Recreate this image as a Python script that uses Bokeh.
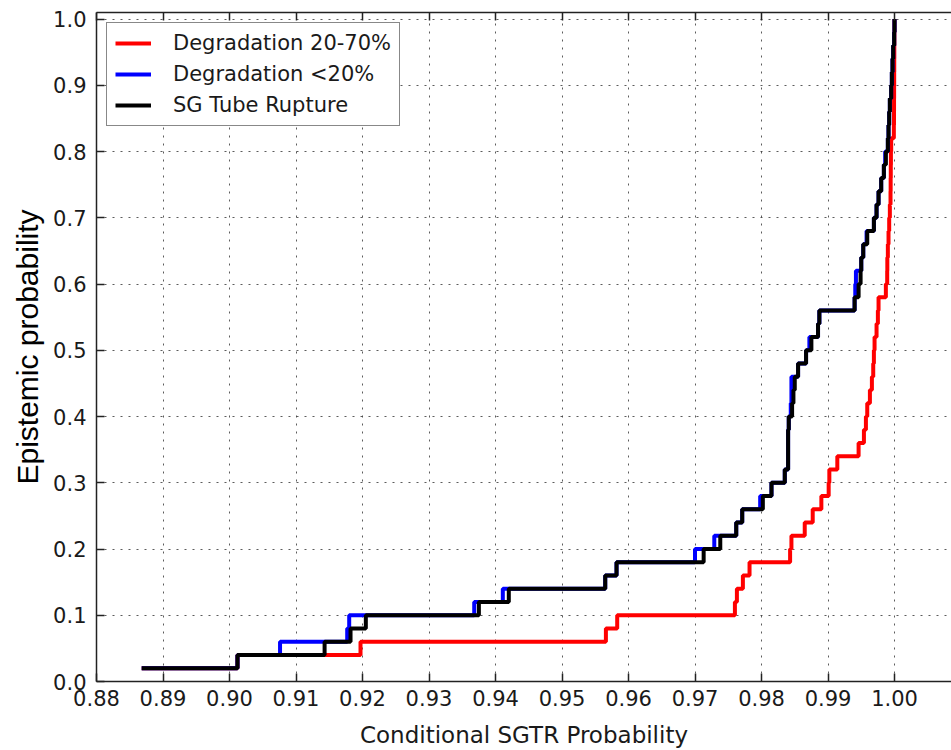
from bokeh.plotting import figure
from bokeh.models import Range1d, FixedTicker, PrintfTickFormatter, LinearAxis, Legend, LegendItem
from bokeh.embed import file_html
from bokeh.resources import INLINE

# Epistemic probability levels (ECDF steps)
epistemic_prob = [0.02, 0.04, 0.06, 0.08, 0.10, 0.12, 0.14, 0.16, 0.18, 0.20,
                  0.22, 0.24, 0.26, 0.28, 0.30, 0.32, 0.34, 0.36, 0.38, 0.40,
                  0.42, 0.44, 0.46, 0.48, 0.50, 0.52, 0.54, 0.56, 0.58, 0.60,
                  0.62, 0.64, 0.66, 0.68, 0.70, 0.72, 0.74, 0.76, 0.78, 0.80,
                  0.82, 0.84, 0.86, 0.88, 0.90, 0.92, 0.94, 0.96, 0.98, 1.00]

# Conditional SGTR probability, sorted samples per series
degradation_20_70 = [0.8868, 0.9012, 0.9197, 0.9566, 0.9583, 0.9760, 0.9763, 0.9772, 0.9782, 0.9843,
                     0.9845, 0.9865, 0.9877, 0.9890, 0.9901, 0.9902, 0.9914, 0.9946, 0.9954, 0.9957,
                     0.9959, 0.9963, 0.9966, 0.9968, 0.9969, 0.9970, 0.9973, 0.9975, 0.9976, 0.9987,
                     0.9989, 0.99892, 0.9990, 0.9991, 0.9992, 0.9993, 0.9994, 0.99942, 0.99944, 0.99946,
                     0.9995, 0.9999, 0.99992, 0.99993, 0.99994, 0.99995, 0.99996, 0.99997, 0.99998, 1.0]

degradation_lt20 = [0.8868, 0.9012, 0.9076, 0.9177, 0.9180, 0.9368, 0.9411, 0.9565, 0.9582, 0.9700,
                    0.9729, 0.9762, 0.9771, 0.9798, 0.9815, 0.9835, 0.9840, 0.9840, 0.9840, 0.9841,
                    0.9844, 0.9845, 0.9845, 0.9855, 0.9867, 0.9872, 0.9885, 0.9887, 0.9940, 0.9941,
                    0.9942, 0.9950, 0.9953, 0.9958, 0.9969, 0.9973, 0.9976, 0.9980, 0.9984, 0.9986,
                    0.9990, 0.9991, 0.9992, 0.9993, 0.9995, 0.9996, 0.9997, 0.9998, 0.99995, 1.0]

sg_tube_rupture = [0.8868, 0.9012, 0.9143, 0.9182, 0.9205, 0.9375, 0.9420, 0.9565, 0.9582, 0.9713,
                   0.9738, 0.9762, 0.9771, 0.9802, 0.9815, 0.9835, 0.9840, 0.9840, 0.9840, 0.9841,
                   0.9846, 0.9848, 0.9850, 0.9855, 0.9867, 0.9875, 0.9885, 0.9887, 0.9940, 0.9946,
                   0.9949, 0.9950, 0.9953, 0.9959, 0.9969, 0.9973, 0.9976, 0.9980, 0.9984, 0.9987,
                   0.9990, 0.9991, 0.9992, 0.9993, 0.9995, 0.9996, 0.9997, 0.9998, 0.99995, 1.0]

series_labels = ["Degradation 20-70%", "Degradation <20%", "SG Tube Rupture"]
series_colors = ["#ff0000", "#0000ff", "#000000"]

x_ticks = [0.88, 0.89, 0.90, 0.91, 0.92, 0.93, 0.94, 0.95, 0.96, 0.97, 0.98, 0.99, 1.00]
y_ticks = [0.0, 0.1, 0.2, 0.3, 0.4, 0.5, 0.6, 0.7, 0.8, 0.9, 1.0]

FONT = "DejaVu Sans"

p = figure(width=951, height=750, output_backend="svg", toolbar_location=None,
           x_range=Range1d(0.88, 1.00857), y_range=Range1d(0.0, 1.01),
           min_border_left=96, min_border_right=0, min_border_top=12, min_border_bottom=68)
p.outline_line_color = None
p.background_fill_color = "white"
p.border_fill_color = "white"

renderers = []
for xs, lab, col in zip([degradation_20_70, degradation_lt20, sg_tube_rupture], series_labels, series_colors):
    r = p.step(x=xs, y=epistemic_prob, mode="after", line_width=4, line_color=col)
    renderers.append((lab, r))

# axes
xt = FixedTicker(ticks=x_ticks)
yt = FixedTicker(ticks=y_ticks)
for ax in p.xaxis:
    ax.ticker = xt
    ax.formatter = PrintfTickFormatter(format="%.2f")
    ax.axis_label = "Conditional SGTR Probability"
for ax in p.yaxis:
    ax.ticker = yt
    ax.formatter = PrintfTickFormatter(format="%.1f")
    ax.axis_label = "Epistemic probability"

# top frame edge with inward ticks, no labels
top = LinearAxis(ticker=FixedTicker(ticks=x_ticks), major_label_text_font_size="2px",
                 major_label_text_color=None, major_label_standoff=0, axis_label=None)
p.add_layout(top, "above")

for ax in p.axis:
    ax.major_tick_in = 8
    ax.major_tick_out = 0
    ax.minor_tick_line_color = None
    ax.major_tick_line_color = "#222222"
    ax.major_tick_line_width = 1.5
    ax.axis_line_color = "#222222"
    ax.axis_line_width = 1.5
    ax.major_label_text_font = FONT

for ax in p.below:
    ax.major_label_text_color = "#1a1a1a"
    ax.major_label_text_font_size = "21px"
    ax.major_label_standoff = 8
    ax.axis_label_text_font = FONT
    ax.axis_label_text_font_size = "23px"
    ax.axis_label_text_font_style = "normal"
    ax.axis_label_text_color = "#1a1a1a"
    ax.axis_label_standoff = 13
for ax in p.yaxis:
    ax.major_label_text_color = "#1a1a1a"
    ax.major_label_text_font_size = "21px"
    ax.major_label_standoff = 10
    ax.axis_label_text_font = "Liberation Sans"
    ax.axis_label_text_font_size = "30px"
    ax.axis_label_text_font_style = "normal"
    ax.axis_label_text_color = "#000000"
    ax.axis_label_standoff = 6

p.xgrid.ticker = FixedTicker(ticks=x_ticks)
p.ygrid.ticker = FixedTicker(ticks=y_ticks)
p.grid.grid_line_color = "#333333"
p.grid.grid_line_alpha = 0.8
p.grid.grid_line_width = 1
p.grid.grid_line_dash = "2 6"

legend = Legend(items=[LegendItem(label=lab, renderers=[r]) for lab, r in renderers],
                location="top_left", margin=10)
legend.label_text_font = FONT
legend.label_text_font_size = "21px"
legend.label_text_color = "#1a1a1a"
legend.border_line_color = "#111111"
legend.border_line_width = 1.5
legend.background_fill_color = "white"
legend.background_fill_alpha = 1.0
legend.padding = 8
legend.spacing = 7
legend.glyph_width = 36
legend.glyph_height = 24
legend.label_height = 24
legend.label_standoff = 22
p.add_layout(legend)

open("out.html", "w").write(file_html(p, INLINE))
